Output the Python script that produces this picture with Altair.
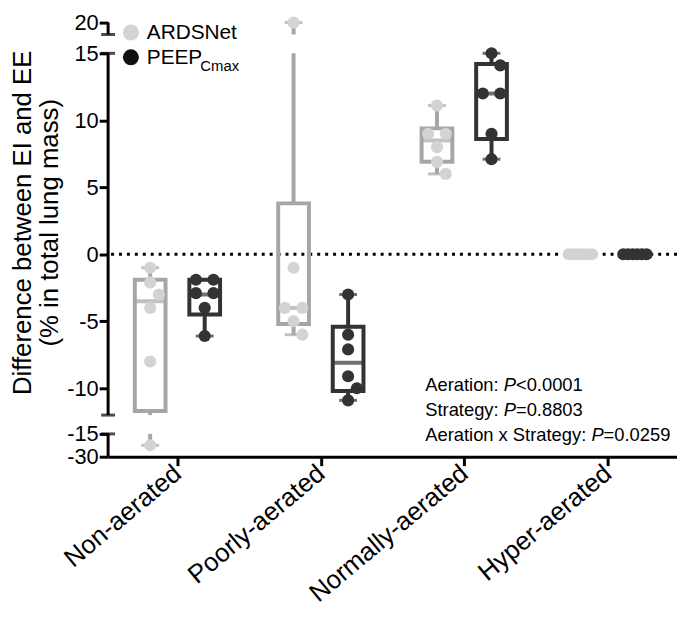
import json
import math
import altair as alt
import pandas as pd

# ---------------- data ----------------
categories = ["Non-aerated", "Poorly-aerated", "Normally-aerated", "Hyper-aerated"]
strategies = ["ARDSNet", "PEEPCmax"]

ards_non = [-1.0, -2.1, -3.0, -4.0, -8.0, -22.5]
ards_poor = [20.0, -1.0, -4.0, -4.0, -5.0, -6.0]
ards_normal = [11.1, 9.0, 9.0, 8.0, 6.9, 6.0]
ards_hyper = [0.0, 0.0, 0.0, 0.0, 0.0, 0.0]
peep_non = [-1.9, -1.9, -2.9, -2.9, -4.0, -6.1]
peep_poor = [-3.0, -6.0, -7.1, -9.1, -10.0, -10.9]
peep_normal = [15.0, 14.1, 12.0, 12.0, 9.0, 7.1]
peep_hyper = [0.0, 0.0, 0.0, 0.0, 0.0, 0.0]

ards_q1 = [-11.7, -5.2, 6.9, 0.0]
ards_median = [-3.5, -4.0, 8.5, 0.0]
ards_q3 = [-1.9, 3.8, 9.4, 0.0]
peep_q1 = [-4.5, -10.2, 8.6, 0.0]
peep_median = [-3.0, -8.1, 12.0, 0.0]
peep_q3 = [-1.9, -5.4, 14.2, 0.0]

y_tick_values = [-30, -15, -10, -5, 0, 5, 10, 15, 20]
y_segments = [(-30, -15), (-12, 15), (17, 20)]
y_title = ["Difference between EI and  EE", "(% in total lung mass)"]
stats_lines = [("Aeration: ", "P", "<0.0001"),
               ("Strategy: ", "P", "=0.8803"),
               ("Aeration x Strategy: ", "P", "=0.0259")]

# ---------------- layout / style ----------------
FONT = "Liberation Sans"
W, H = 574, 438
X_DOMAIN = [-0.449, 3.449]
PX_X = W / (X_DOMAIN[1] - X_DOMAIN[0])
BREAK_DOMAIN = [-30, -15, -12, 15, 17, 20]
BREAK_RANGE = [438, 415, 396, 31, 12, 0]
PX_Y = (396 - 31) / 27.0
GROUP_SHIFT = [-28 / PX_X, 28 / PX_X]
point_colors = ["#d3d3d3", "#333333"]
line_colors = ["#a6a6a6", "#333333"]

series = {
    "ARDSNet": [ards_non, ards_poor, ards_normal, ards_hyper],
    "PEEPCmax": [peep_non, peep_poor, peep_normal, peep_hyper],
}
boxes = {
    "ARDSNet": (ards_q1, ards_median, ards_q3),
    "PEEPCmax": (peep_q1, peep_median, peep_q3),
}


def spread(vals):
    """Scatter-dot layout: tied points spread symmetrically, others nudged sideways."""
    order = sorted(range(len(vals)), key=lambda i: -vals[i])
    clusters = []
    for i in order:
        if clusters and abs(vals[clusters[-1][-1]] - vals[i]) * PX_Y < 5:
            clusters[-1].append(i)
        else:
            clusters.append([i])
    offs = [0.0] * len(vals)
    placed = []
    for c in clusters:
        k = len(c)
        if k > 1:
            step = min(18.0, 24.0 / (k - 1))
            for j, i in enumerate(c):
                offs[i] = (j - (k - 1) / 2) * step
                placed.append((offs[i], vals[i] * PX_Y))
        else:
            i = c[0]
            y = vals[i] * PX_Y
            best, bestd = 0.0, -1
            for cand in [0.0, 9.0, -9.0, 18.0, -18.0]:
                d = min([math.hypot(cand - px, y - py) for px, py in placed] or [99])
                if d >= 14:
                    best = cand
                    break
                if d > bestd:
                    best, bestd = cand, d
            offs[i] = best
            placed.append((best, y))
    return offs


def clip(a, b):
    out = []
    for lo, hi in y_segments:
        s, e = max(a, lo), min(b, hi)
        if e > s:
            out.append((s, e))
    return out


pt_rows, box_rows, wh_rows, cap_rows = [], [], [], []
for si, strat in enumerate(strategies):
    q1s, meds, q3s = boxes[strat]
    for ci, cat in enumerate(categories):
        vals = series[strat][ci]
        xc = ci + GROUP_SHIFT[si]
        for v, o in zip(vals, spread(vals)):
            pt_rows.append({"strategy": strat, "x": xc + o / PX_X, "value": v})
        lo, hi = min(vals), max(vals)
        box_rows.append({"strategy": strat, "x": xc, "q1": q1s[ci], "med": meds[ci], "q3": q3s[ci]})
        for a, b in [(lo, q1s[ci]), (q3s[ci], hi)]:
            for s, e in clip(a, b):
                wh_rows.append({"strategy": strat, "x": xc, "a": s, "b": e})
        cap_rows.append({"strategy": strat, "x": xc, "y": lo})
        cap_rows.append({"strategy": strat, "x": xc, "y": hi})

pts = pd.DataFrame(pt_rows)
bx = pd.DataFrame(box_rows)
wh = pd.DataFrame(wh_rows)
caps = pd.DataFrame(cap_rows)
segs = pd.DataFrame(y_segments, columns=["lo", "hi"])
seg_ends = pd.DataFrame({"y": [-15, -12, 15, 17]})
one = pd.DataFrame({"k": [0]})

x_scale = alt.Scale(domain=X_DOMAIN, nice=False, zero=False)
y_scale = alt.Scale(domain=BREAK_DOMAIN, range=BREAK_RANGE, nice=False, zero=False)
x_axis = alt.Axis(values=[0, 1, 2, 3], labelExpr=json.dumps(categories) + "[datum.value]",
                  domain=True, domainWidth=3, domainColor="black", grid=False,
                  tickSize=9, tickWidth=3, tickColor="black", labelAngle=-40,
                  labelAlign="right", labelBaseline="middle", labelFontSize=26, labelFont=FONT,
                  labelColor="black", labelPadding=4, labelOverlap=False, labelFlush=False,
                  labelLimit=500, title=None)
y_axis = alt.Axis(values=y_tick_values, labelExpr="'' + datum.value", domain=False, grid=False,
                  tickSize=9, tickWidth=3, tickColor="black", labelFontSize=22, labelFont=FONT,
                  labelColor="black", labelPadding=1, labelOverlap=False, labelFlush=False,
                  title=None)
color = alt.Color("strategy:N", scale=alt.Scale(domain=strategies, range=line_colors), legend=None)
fill = alt.Fill("strategy:N", scale=alt.Scale(domain=strategies, range=point_colors), legend=None)


def X(f):
    return alt.X(f, scale=x_scale, axis=x_axis)


def Y(f):
    return alt.Y(f, scale=y_scale, axis=y_axis)


zero_line = alt.Chart(one).mark_rule(strokeDash=[3, 5], strokeWidth=3, color="black").encode(
    y=alt.Y(datum=0, scale=y_scale, axis=y_axis))
axis_line = alt.Chart(segs).mark_rule(strokeWidth=3, color="black").encode(
    x=alt.value(0), y=Y("lo:Q"), y2="hi:Q")
axis_caps = alt.Chart(seg_ends).mark_tick(orient="horizontal", size=14, thickness=3, color="black").encode(
    x=alt.value(0), y=Y("y:Q"))
whiskers = alt.Chart(wh).mark_rule(strokeWidth=4).encode(x=X("x:Q"), y=Y("a:Q"), y2="b:Q", color=color)
cap_marks = alt.Chart(caps).mark_tick(orient="horizontal", size=18, thickness=3).encode(
    x=X("x:Q"), y=Y("y:Q"), color=color)
box_marks = alt.Chart(bx).mark_bar(filled=False, strokeWidth=4, size=31).encode(
    x=X("x:Q"), y=Y("q1:Q"), y2="q3:Q", color=color)
med_marks = alt.Chart(bx).mark_tick(orient="horizontal", size=31, thickness=4).encode(
    x=X("x:Q"), y=Y("med:Q"), color=color)
points = alt.Chart(pts).mark_circle(size=150, opacity=1).encode(x=X("x:Q"), y=Y("value:Q"), fill=fill)

layers = [zero_line, axis_line, axis_caps, whiskers, cap_marks, box_marks, med_marks, points]

# legend (drawn by hand because of the subscript)
legend_y = [10, 35]
legend_col = ["#d3d3d3", "#111111"]
for i, name in enumerate(["ARDSNet", "PEEP"]):
    layers.append(alt.Chart(one).mark_circle(size=260, opacity=1, color=legend_col[i]).encode(
        x=alt.value(23), y=alt.value(legend_y[i])))
    layers.append(alt.Chart(one).mark_text(align="left", baseline="middle", fontSize=21, font=FONT,
                                           color="black").encode(
        x=alt.value(39), y=alt.value(legend_y[i] + 1), text=alt.value(name)))
layers.append(alt.Chart(one).mark_text(align="left", baseline="middle", fontSize=15, font=FONT,
                                       color="black").encode(
    x=alt.value(93), y=alt.value(legend_y[1] + 9), text=alt.value("Cmax")))

# statistics text
AW = {"A": 667, "e": 556, "r": 333, "a": 556, "t": 278, "i": 222, "o": 556, "n": 556, ":": 278,
      " ": 278, "S": 667, "g": 556, "y": 500, "x": 500, "P": 667}
FS = 18.5
for li, (pre, p, post) in enumerate(stats_lines):
    yy = 366 + 25 * li
    x0 = 320
    wpre = sum(AW[c] for c in pre) * FS / 1000
    wp = AW["P"] * FS / 1000
    for txt, xx, style in [(pre, x0, "normal"), (p, x0 + wpre, "italic"), (post, x0 + wpre + wp, "normal")]:
        layers.append(alt.Chart(one).mark_text(align="left", baseline="middle", fontSize=FS, font=FONT,
                                               fontStyle=style, color="black").encode(
            x=alt.value(xx), y=alt.value(yy), text=alt.value(txt)))

# y axis title
layers.append(alt.Chart(one).mark_text(angle=270, align="center", baseline="middle", fontSize=26,
                                       lineHeight=27, font=FONT, color="black").encode(
    x=alt.value(-86), y=alt.value(202), text=alt.value(y_title)))

chart = alt.layer(*layers).properties(
    width=W, height=H,
    padding={"left": 101, "top": 12, "right": 0, "bottom": 160},
    autosize=alt.AutoSizeParams(type="none"),
).configure_view(strokeWidth=0)

chart.save("out.html", embed_options={"renderer": "svg", "actions": False})
